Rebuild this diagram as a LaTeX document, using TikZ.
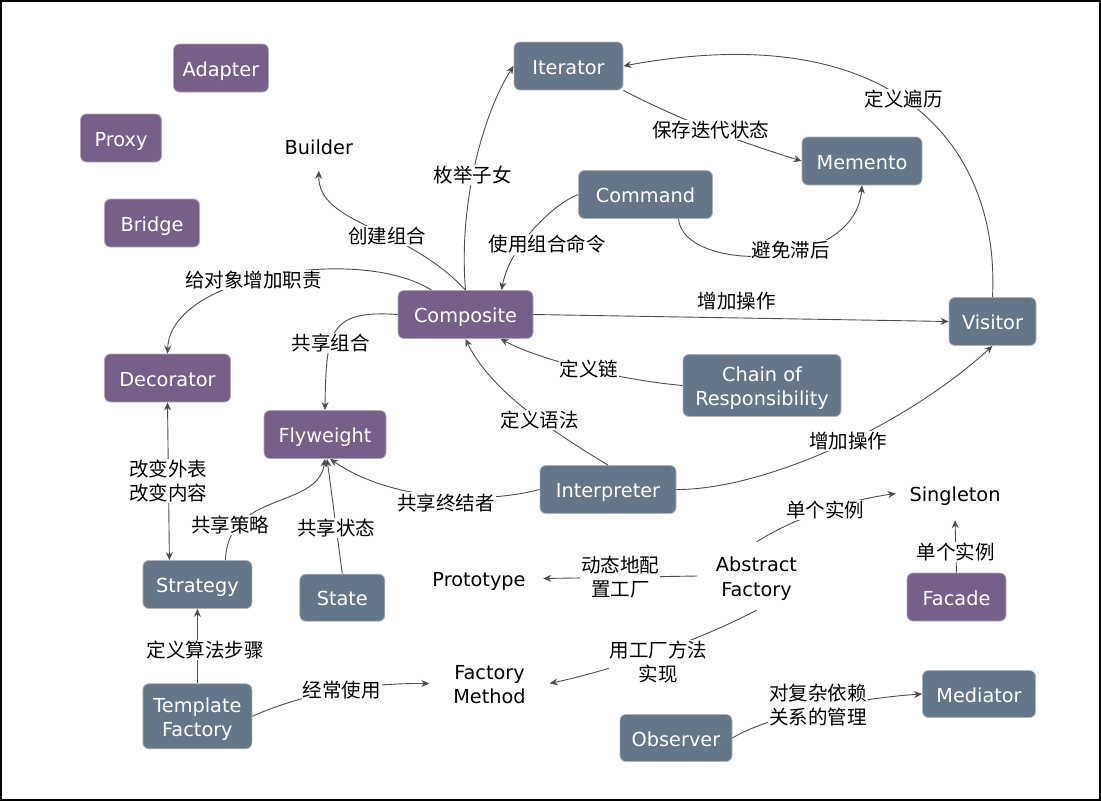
\documentclass[tikz,border=0pt]{standalone}
\usepackage{fontspec}
\setmainfont{DejaVu Sans}
\newfontfamily\cjk{Noto Sans CJK SC}
\usetikzlibrary{arrows.meta}
\definecolor{purp}{HTML}{76608A}
\definecolor{slate}{HTML}{647687}
\definecolor{edgec}{HTML}{4D4D4D}
\begin{document}
\begin{tikzpicture}[x=1pt,y=-1pt,
  >={Stealth[length=8pt,width=7pt]},
  box/.style={rounded corners=6pt, text=white, font=\fontsize{19.3}{24.5}\selectfont, align=center, inner sep=0pt, line width=0.8pt, text height=16pt, text depth=0pt},
  twol/.style={text height=40.5pt, text depth=0pt},
  pbox/.style={box, fill=purp, draw=purp!55!white},
  sbox/.style={box, fill=slate, draw=slate!55!white},
  plain/.style={font=\fontsize{19.3}{24.5}\selectfont, align=center, inner sep=0pt, text=black, text height=16pt, text depth=0pt},
  lbl/.style={font=\cjk\fontsize{19.5}{23.5}\selectfont, fill=white, inner sep=1pt, align=center, text=black},
  conn/.style={draw=edgec, line width=0.9pt, ->},
]
\useasboundingbox (0,0) rectangle (1101,801);
\draw[line width=2pt] (1,1) rectangle (1099.5,799.5);

% boxes
\node[pbox, minimum width=95pt, minimum height=48pt] (adapter) at (221,68) {Adapter};
\node[pbox, minimum width=81pt, minimum height=48pt] (proxy) at (121,138) {Proxy};
\node[pbox, minimum width=95pt, minimum height=48pt] (bridge) at (152,223) {Bridge};
\node[sbox, minimum width=109pt, minimum height=48pt] (iterator) at (568.5,66) {Iterator};
\node[sbox, minimum width=120pt, minimum height=48pt] (memento) at (862,161) {Memento};
\node[sbox, minimum width=134pt, minimum height=48pt] (command) at (645.5,194.5) {Command};
\node[pbox, minimum width=135pt, minimum height=48pt] (composite) at (465.5,314.5) {Composite};
\node[sbox, minimum width=87pt, minimum height=48pt] (visitor) at (992.5,321.5) {Visitor};
\node[pbox, minimum width=126pt, minimum height=48pt] (decorator) at (167.5,378) {Decorator};
\node[sbox, twol, minimum width=158pt, minimum height=62pt] (cor) at (762,385.5) {Chain of\\Responsibility};
\node[pbox, minimum width=122pt, minimum height=48pt] (flyweight) at (325,434.5) {Flyweight};
\node[sbox, minimum width=136pt, minimum height=48pt] (interpreter) at (608,489.5) {Interpreter};
\node[sbox, minimum width=109pt, minimum height=48pt] (strategy) at (197.4,584.5) {Strategy};
\node[sbox, minimum width=85pt, minimum height=47pt] (state) at (342.3,597.7) {State};
\node[sbox, twol, minimum width=109pt, minimum height=65pt] (tf) at (197.4,716.3) {Template\\Factory};
\node[pbox, minimum width=99pt, minimum height=48pt] (facade) at (956.5,597) {Facade};
\node[sbox, minimum width=113pt, minimum height=47pt] (mediator) at (979,694) {Mediator};
\node[sbox, minimum width=112pt, minimum height=47pt] (observer) at (676,738) {Observer};

% plain text nodes
\node[plain, minimum height=48pt] (builder) at (318.8,146.5) {Builder};
\node[plain, minimum width=128pt, minimum height=40pt] (prototype) at (479,578.5) {Prototype};
\node[plain, twol, minimum width=120pt, minimum height=52pt] (fm) at (489.5,683.5) {Factory\\Method};
\node[plain, minimum width=118pt, minimum height=53pt] (singleton) at (955,493.5) {Singleton};
\node[plain, twol, minimum width=118pt, minimum height=68pt] (af) at (756.5,576) {Abstract\\Factory};

% connectors
\draw[conn] (composite.north) .. controls (458,200) and (485,110) .. node[lbl,pos=0.44]{枚举子女} (iterator.west);
\draw[conn] (composite.north) .. controls (405,225) and (318,225) .. node[lbl,pos=0.4]{创建组合} (builder.south);
\draw[conn] ([xshift=-34pt]composite.north) .. controls (360,245) and (170,275) .. node[lbl,pos=0.56]{给对象增加职责} (decorator.north);
\draw[conn] (composite.west) .. controls (330,310) and (326,330) .. node[lbl,pos=0.62]{共享组合} (flyweight.north);
\draw[conn] (command.west) .. controls (555,203) and (510,245) .. node[lbl,pos=0.6,xshift=22pt,yshift=-5pt]{使用组合命令} ([xshift=36pt]composite.north);
\draw[conn] ([xshift=33pt]command.south) .. controls (683,273) and (855,273) .. node[lbl,pos=0.58,yshift=2pt]{避免滞后} (memento.south);
\draw[conn] (iterator.south east) .. controls (680,120) and (740,142) .. node[lbl]{保存迭代状态} (memento.west);
\draw[conn] (visitor.north) .. controls (1000,150) and (900,15) .. node[lbl,pos=0.53]{定义遍历} (iterator.east);
\draw[conn] (composite.east) -- node[lbl,pos=0.49,yshift=17pt]{增加操作} (visitor.west);
\draw[conn] (cor.west) .. controls (620,380) and (540,360) .. node[lbl,pos=0.47]{定义链} ([xshift=35pt]composite.south);
\draw[conn] (interpreter.north) .. controls (550,430) and (490,390) .. node[lbl,pos=0.4]{定义语法} (composite.south);
\draw[conn] (interpreter.east) .. controls (760,490) and (900,430) .. node[lbl,pos=0.55]{增加操作} (visitor.south);
\draw[conn] (interpreter.west) .. controls (480,505) and (390,500) .. node[lbl,pos=0.45,yshift=-6pt]{共享终结者} ([xshift=5pt]flyweight.south);
\draw[conn] (state.north) -- node[lbl,pos=0.4]{共享状态} ([xshift=2pt]flyweight.south);
\draw[conn] ([xshift=28pt]strategy.north) .. controls (228,490) and (318,510) .. node[lbl,pos=0.2,xshift=-6pt,yshift=3pt]{共享策略} (flyweight.south);
\draw[conn,<->] (decorator.south) -- node[lbl]{改变外表\\改变内容} ([xshift=-28pt]strategy.north);
\draw[conn] (tf.north) -- node[lbl,xshift=8pt,yshift=-4pt]{定义算法步骤} (strategy.south);
\draw[conn] (tf.east) .. controls (300,695) and (360,683) .. node[lbl,pos=0.55]{经常使用} (fm.west);
\draw[conn] (af.west) -- node[lbl]{动态地配\\置工厂} (prototype.east);
\draw[conn] (af.north) .. controls (800,515) and (850,500) .. node[lbl]{单个实例} (singleton.west);
\draw[conn] (facade.north) -- node[lbl,pos=0.4]{单个实例} (singleton.south);
\draw[conn] (af.south) .. controls (700,640) and (620,668) .. node[lbl,pos=0.5,yshift=-10pt]{用工厂方法\\实现} (fm.east);
\draw[conn] (observer.east) .. controls (770,715) and (860,698) .. node[lbl,pos=0.5,yshift=4pt]{对复杂依赖\\关系的管理} (mediator.west);
\end{tikzpicture}
\end{document}
